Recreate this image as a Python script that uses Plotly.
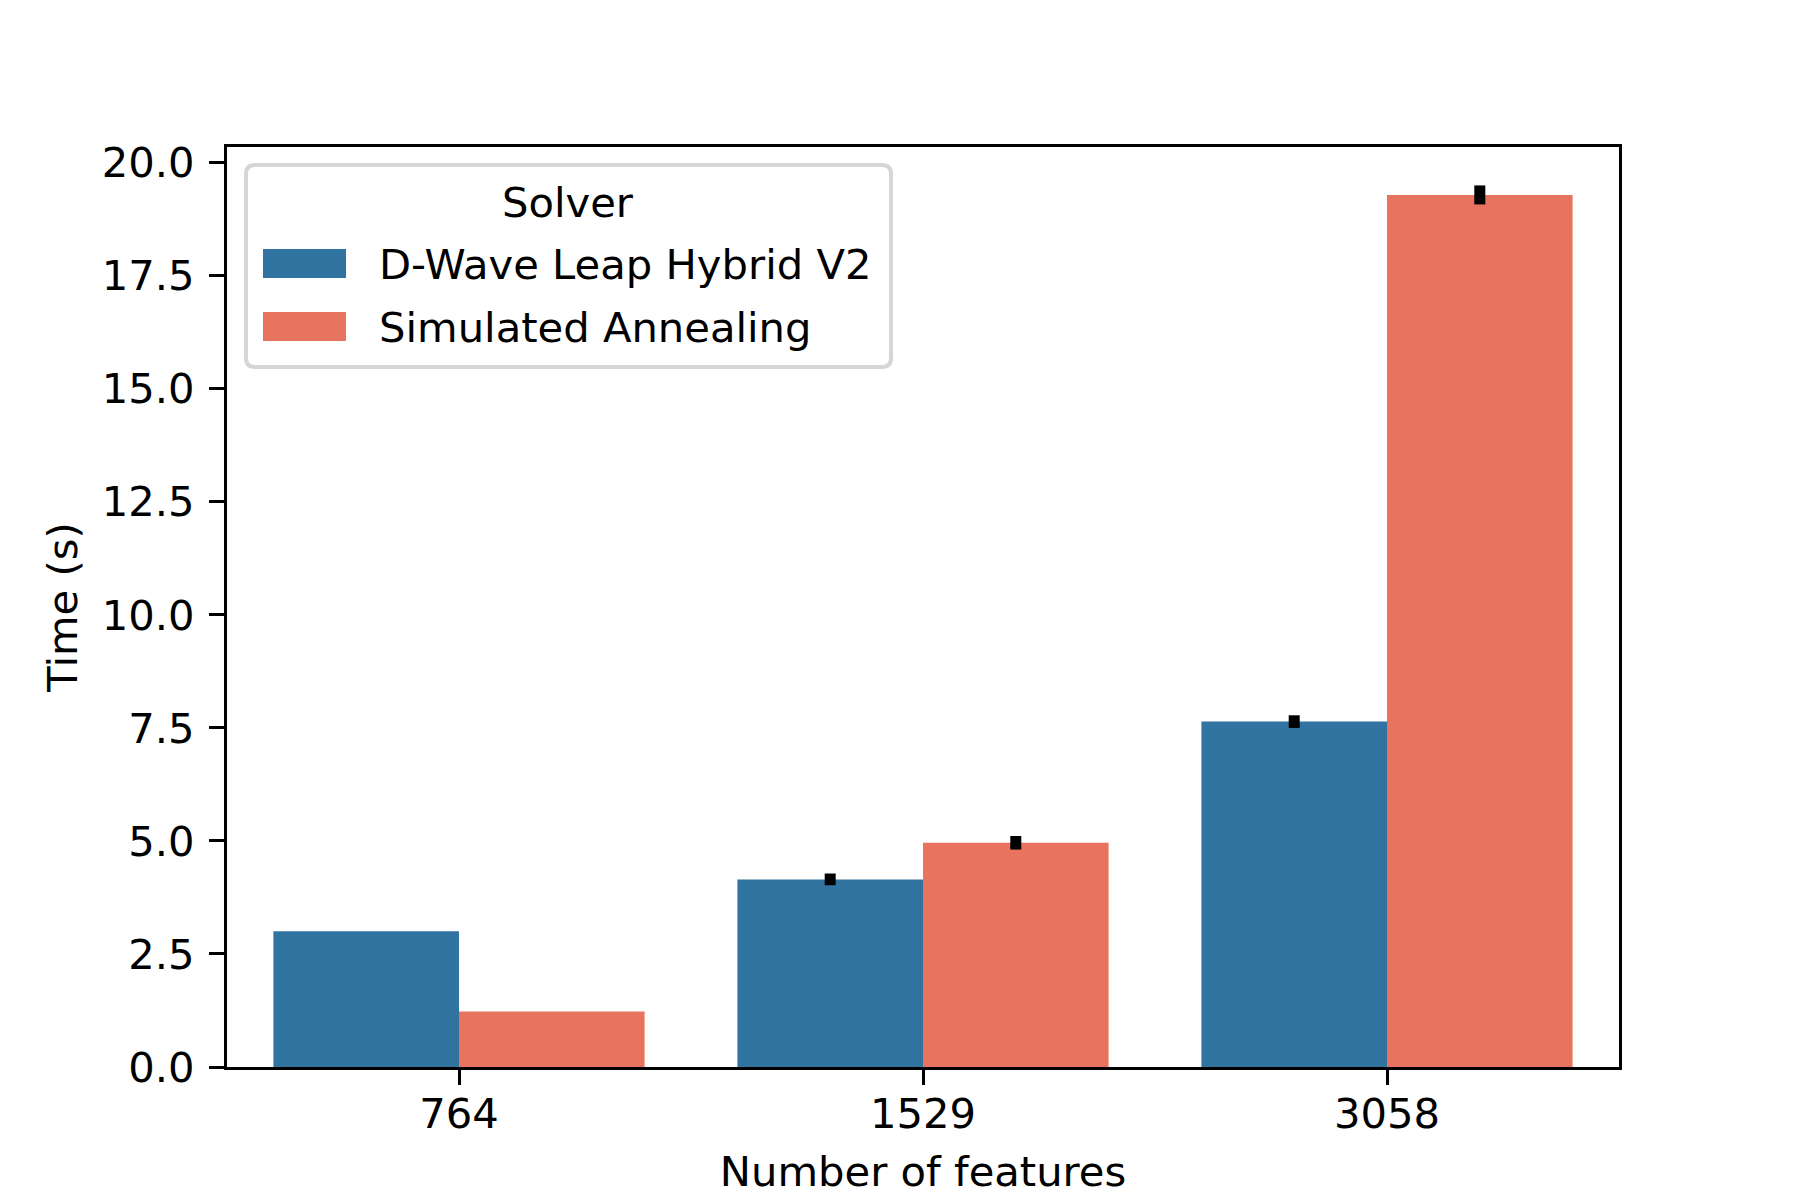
import plotly.graph_objects as go

# values
features = ["764", "1529", "3058"]
dwave_time = [3.00, 4.15, 7.64]
sa_time = [1.23, 4.96, 19.29]
dwave_err = [0.0, 0.13, 0.14]
sa_err = [0.0, 0.15, 0.21]

solvers = ["D-Wave Leap Hybrid V2", "Simulated Annealing"]
colors = ["#3274a1", "#e8745f"]

W, H = 1800, 1200
L, R, T, B = 219, 189, 139, 141
FONT = dict(family="DejaVu Sans", size=41.7, color="black")


def px_x(x):
    return (x - L) / (W - L - R)


def px_y(y):
    return (H - B - y) / (H - T - B)


fig = go.Figure()
for name, vals, errs, col in zip(solvers, [dwave_time, sa_time], [dwave_err, sa_err], colors):
    fig.add_trace(go.Bar(
        x=features, y=vals, name=name, marker=dict(color=col, line=dict(width=0)),
        error_y=dict(type="data", array=errs, color="black", thickness=11, width=0),
        showlegend=False,
    ))

# legend drawn by hand (matplotlib style frame)
x0, x1, y0, y1, r = 238, 883, 157, 359, 9
frame = (f"M {px_x(x0 + r)},{px_y(y0)} L {px_x(x1 - r)},{px_y(y0)} "
         f"Q {px_x(x1)},{px_y(y0)} {px_x(x1)},{px_y(y0 + r)} "
         f"L {px_x(x1)},{px_y(y1 - r)} Q {px_x(x1)},{px_y(y1)} {px_x(x1 - r)},{px_y(y1)} "
         f"L {px_x(x0 + r)},{px_y(y1)} Q {px_x(x0)},{px_y(y1)} {px_x(x0)},{px_y(y1 - r)} "
         f"L {px_x(x0)},{px_y(y0 + r)} Q {px_x(x0)},{px_y(y0)} {px_x(x0 + r)},{px_y(y0)} Z")
shapes = [dict(type="path", xref="paper", yref="paper", path=frame,
               fillcolor="rgba(255,255,255,0.8)", line=dict(color="#d6d6d6", width=4))]
annotations = [dict(text="Solver", xref="paper", yref="paper", x=px_x(560), y=px_y(194),
                    xanchor="center", yanchor="middle", showarrow=False, font=FONT)]
for i, (name, col) in enumerate(zip(solvers, colors)):
    top = 241 + i * 63
    shapes.append(dict(type="rect", xref="paper", yref="paper",
                       x0=px_x(255), x1=px_x(338), y0=px_y(top), y1=px_y(top + 29),
                       fillcolor=col, line=dict(width=0)))
    annotations.append(dict(text=name, xref="paper", yref="paper", x=px_x(369), y=px_y(top + 15),
                            xanchor="left", yanchor="middle", showarrow=False, font=FONT))

fig.update_layout(
    width=W, height=H,
    margin=dict(l=L, r=R, t=T, b=B),
    paper_bgcolor="white", plot_bgcolor="white",
    font=FONT,
    barmode="group", bargap=0.2, bargroupgap=0,
    shapes=shapes, annotations=annotations,
)
fig.update_xaxes(
    type="category", range=[-0.5, 2.5],
    showline=True, linecolor="black", linewidth=3.3, mirror=True,
    ticks="outside", ticklen=15, tickwidth=3.3, tickcolor="black", ticklabelstandoff=-7,
    showgrid=False, zeroline=False,
    title=dict(text="Number of features", font=FONT, standoff=20),
)
fig.update_yaxes(
    range=[0, 20.35], tick0=0, dtick=2.5, tickformat=".1f",
    showline=True, linecolor="black", linewidth=3.3, mirror=True,
    ticks="outside", ticklen=15, tickwidth=3.3, tickcolor="black", ticklabelstandoff=6,
    showgrid=False, zeroline=False,
    title=dict(text="Time (s)", font=FONT, standoff=12),
)

fig.write_html("out.html")
